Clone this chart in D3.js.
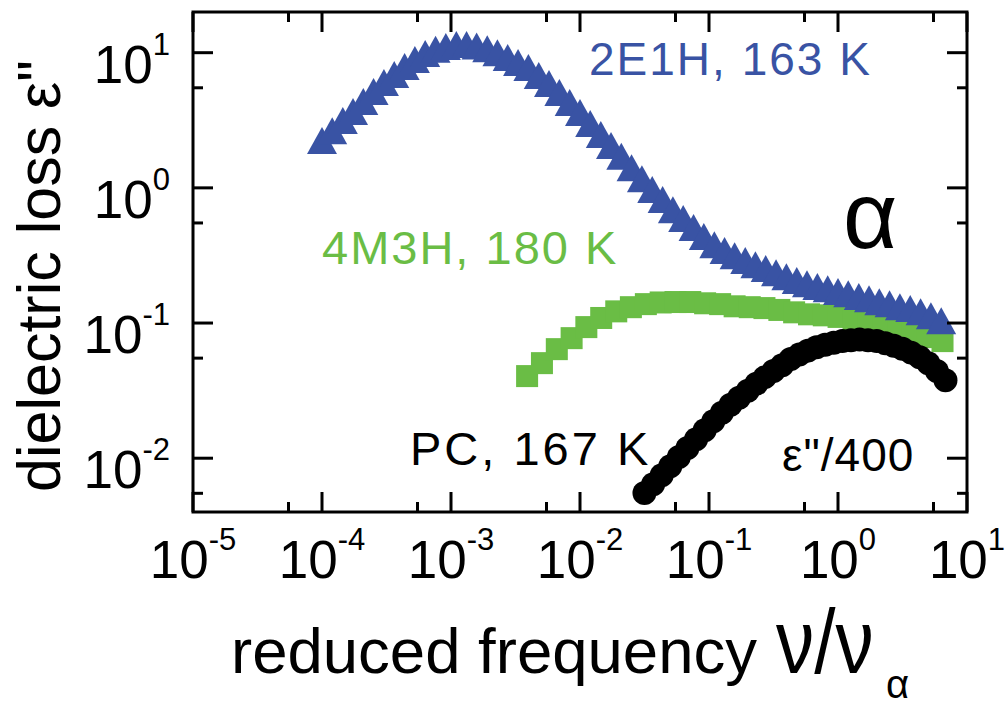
<!DOCTYPE html>
<html>
<head>
<meta charset="utf-8">
<script src="https://cdn.jsdelivr.net/npm/d3@7"></script>
<style>
  html, body { margin: 0; padding: 0; background: #fff; }
  svg { display: block; }
  text { font-family: "Liberation Sans", Arial, Helvetica, sans-serif; }
</style>
</head>
<body>
<svg id="chart" width="1005" height="709"></svg>
<script>
// Reduced frequency nu/nu_alpha and dielectric loss for three glass formers

// 2E1H, 163 K
const freq2E1H = [
  1.00e-4, 1.20e-4, 1.45e-4, 1.74e-4, 2.09e-4, 2.51e-4, 3.02e-4, 3.63e-4, 4.37e-4, 5.25e-4,
  6.31e-4, 7.59e-4, 9.12e-4, 1.10e-3, 1.32e-3, 1.58e-3, 1.91e-3, 2.29e-3, 2.75e-3, 3.31e-3,
  3.98e-3, 4.79e-3, 5.75e-3, 6.92e-3, 8.32e-3, 1.00e-2, 1.20e-2, 1.45e-2, 1.74e-2, 2.09e-2,
  2.51e-2, 3.02e-2, 3.63e-2, 4.37e-2, 5.25e-2, 6.31e-2, 7.59e-2, 9.12e-2, 0.110, 0.132,
  0.158, 0.191, 0.229, 0.275, 0.331, 0.398, 0.479, 0.575, 0.692, 0.832,
  1.00, 1.20, 1.45, 1.74, 2.09, 2.51, 3.02, 3.63, 4.37, 5.25, 6.31
];
const loss2E1H = [
  2.24, 2.65, 3.15, 3.67, 4.35, 5.16, 6.02, 6.90, 7.91, 8.91,
  9.86, 10.6, 11.1, 11.5, 11.5, 11.2, 10.7, 10.0, 9.21, 8.46,
  7.77, 6.78, 5.92, 5.07, 4.28, 3.61, 2.99, 2.48, 2.06, 1.71,
  1.41, 1.17, 0.971, 0.819, 0.690, 0.593, 0.508, 0.436, 0.380, 0.344,
  0.315, 0.290, 0.270, 0.253, 0.236, 0.220, 0.206, 0.195, 0.186, 0.179,
  0.171, 0.165, 0.157, 0.151, 0.144, 0.139, 0.132, 0.128, 0.121, 0.113, 0.104
];

// 4M3H, 180 K
const freq4M3H = [
  3.89e-3, 5.07e-3, 6.61e-3, 8.61e-3, 1.12e-2, 1.46e-2, 1.91e-2, 2.48e-2, 3.24e-2, 4.22e-2,
  5.50e-2, 7.16e-2, 9.33e-2, 0.122, 0.158, 0.207, 0.269, 0.351, 0.457, 0.596,
  0.776, 1.01, 1.32, 1.72, 2.24, 2.92, 3.80, 4.95, 6.46
];
const loss4M3H = [
  0.0405, 0.0505, 0.0641, 0.0773, 0.0933, 0.109, 0.122, 0.131, 0.138, 0.142,
  0.143, 0.143, 0.140, 0.138, 0.133, 0.131, 0.129, 0.125, 0.120, 0.116,
  0.114, 0.111, 0.105, 0.0998, 0.0933, 0.0886, 0.0828, 0.0787, 0.0735
];

// PC, 167 K (loss divided by 400)
const freqPC = [
  0.0316, 0.0369, 0.0430, 0.0501, 0.0584, 0.0681, 0.0794, 0.0926, 0.108, 0.126,
  0.147, 0.171, 0.200, 0.233, 0.271, 0.316, 0.369, 0.430, 0.501, 0.584,
  0.681, 0.794, 0.926, 1.08, 1.26, 1.47, 1.71, 2.00, 2.33, 2.71,
  3.16, 3.69, 4.30, 5.01, 5.84, 6.81
];
const lossPC = [
  0.00553, 0.00642, 0.00748, 0.00873, 0.0102, 0.0119, 0.0138, 0.0161, 0.0188, 0.0217,
  0.0249, 0.0280, 0.0316, 0.0356, 0.0398, 0.0441, 0.0488, 0.0541, 0.0584, 0.0625,
  0.0663, 0.0692, 0.0716, 0.0735, 0.0747, 0.0754, 0.0747, 0.0735, 0.0710, 0.0680,
  0.0646, 0.0604, 0.0559, 0.0505, 0.0441, 0.0378
];

// Axis ticks
const xMajorTicks = [1e-5, 1e-4, 1e-3, 1e-2, 1e-1, 1e0, 1e1];
const xTickExponents = ["-5", "-4", "-3", "-2", "-1", "0", "1"];
const xMinorTicks = [5.5e-5, 5.5e-4, 5.5e-3, 5.5e-2, 0.55, 5.5];
const yMajorTicks = [1e-2, 1e-1, 1e0, 1e1];
const yTickExponents = ["-2", "-1", "0", "1"];
const yMinorTicks = [5.5e-3, 5.5e-2, 0.55, 5.5];

const blue = "#3953a4";
const green = "#6abd45";
const black = "#000000";

const svg = d3.select("#chart");
const pLeft = 193, pRight = 967, pTop = 12, pBottom = 512;

const x = d3.scaleLog().domain([1e-5, 10]).range([pLeft, pRight]);
const y = d3.scaleLog().domain([0.004, 20]).range([pBottom, pTop]);

svg.append("clipPath").attr("id", "plotclip")
  .append("rect").attr("x", pLeft).attr("y", pTop)
  .attr("width", pRight - pLeft).attr("height", pBottom - pTop);

const marks = svg.append("g").attr("clip-path", "url(#plotclip)");

// 4M3H: filled squares
const sq = 22;
marks.append("g").selectAll("rect")
  .data(d3.zip(freq4M3H, loss4M3H))
  .join("rect")
  .attr("x", d => x(d[0]) - sq / 2)
  .attr("y", d => y(d[1]) - sq / 2)
  .attr("width", sq).attr("height", sq)
  .attr("fill", green);

// 2E1H: filled up-triangles
const tw = 30, th = 27;
const tri = `M0,${-th / 2}L${tw / 2},${th / 2}L${-tw / 2},${th / 2}Z`;
marks.append("g").selectAll("path")
  .data(d3.zip(freq2E1H, loss2E1H))
  .join("path")
  .attr("d", tri)
  .attr("transform", d => `translate(${x(d[0])},${y(d[1])})`)
  .attr("fill", blue);

// PC: filled circles
marks.append("g").selectAll("circle")
  .data(d3.zip(freqPC, lossPC))
  .join("circle")
  .attr("cx", d => x(d[0]))
  .attr("cy", d => y(d[1]))
  .attr("r", 12)
  .attr("fill", black);

// Frame and ticks
const axes = svg.append("g").attr("stroke", "#000").attr("stroke-width", 3).attr("fill", "none");
axes.append("rect").attr("x", pLeft).attr("y", pTop)
  .attr("width", pRight - pLeft).attr("height", pBottom - pTop);

const majorLen = 20, minorLen = 10;
function xTicks(vals, len) {
  vals.forEach(v => {
    const px = x(v);
    axes.append("line").attr("x1", px).attr("x2", px).attr("y1", pBottom).attr("y2", pBottom - len);
    axes.append("line").attr("x1", px).attr("x2", px).attr("y1", pTop).attr("y2", pTop + len);
  });
}
function yTicks(vals, len) {
  vals.forEach(v => {
    const py = y(v);
    axes.append("line").attr("y1", py).attr("y2", py).attr("x1", pLeft).attr("x2", pLeft + len);
    axes.append("line").attr("y1", py).attr("y2", py).attr("x1", pRight).attr("x2", pRight - len);
  });
}
xTicks(xMajorTicks, majorLen);
xTicks(xMinorTicks, minorLen);
yTicks(yMajorTicks, majorLen);
yTicks(yMinorTicks, minorLen);

// Tick labels as 10 with superscript exponent
const baseSize = 53, expSize = 31, expRaise = 28;
const xl = svg.append("g");
xMajorTicks.forEach((v, i) => {
  const t = xl.append("text").attr("x", x(v)).attr("y", 578)
    .attr("text-anchor", "middle").attr("fill", "#000");
  t.append("tspan").attr("font-size", baseSize).text("10");
  t.append("tspan").attr("font-size", expSize).attr("dy", -expRaise).text(xTickExponents[i]);
});
const yl = svg.append("g");
yMajorTicks.forEach((v, i) => {
  const t = yl.append("text").attr("x", 170).attr("y", y(v) + 30)
    .attr("text-anchor", "end").attr("fill", "#000");
  t.append("tspan").attr("font-size", baseSize).text("10");
  t.append("tspan").attr("font-size", expSize).attr("dy", -expRaise).text(yTickExponents[i]);
});

// Axis titles
svg.append("text").attr("x", 231).attr("y", 673).attr("fill", "#000")
  .attr("font-size", 63.5).text("reduced frequency");
svg.append("text")
  .attr("transform", "translate(776,673) scale(0.85,1)")
  .attr("font-size", 90).attr("fill", "#000").text("ν/ν");
svg.append("text").attr("x", 886).attr("y", 698)
  .attr("font-size", 40).attr("fill", "#000").text("α");

svg.append("text")
  .attr("transform", "translate(60,276) rotate(-90)")
  .attr("text-anchor", "middle")
  .attr("font-size", 61).attr("fill", "#000")
  .text("dielectric loss ε\"");

// Series annotations
svg.append("text").attr("x", 589).attr("y", 75).attr("font-size", 46)
  .attr("letter-spacing", 2).attr("fill", blue).text("2E1H, 163 K");
svg.append("text").attr("x", 322).attr("y", 264).attr("font-size", 47)
  .attr("letter-spacing", 2).attr("fill", green).text("4M3H, 180 K");
svg.append("text").attr("x", 410).attr("y", 465).attr("font-size", 47)
  .attr("letter-spacing", 3).attr("fill", "#000").text("PC, 167 K");
svg.append("text").attr("x", 782).attr("y", 471).attr("font-size", 46)
  .attr("letter-spacing", 1).attr("fill", "#000").text("ε\"/400");
svg.append("text").attr("x", 843).attr("y", 248).attr("font-size", 94)
  .attr("fill", "#000").text("α");
</script>
</body>
</html>
